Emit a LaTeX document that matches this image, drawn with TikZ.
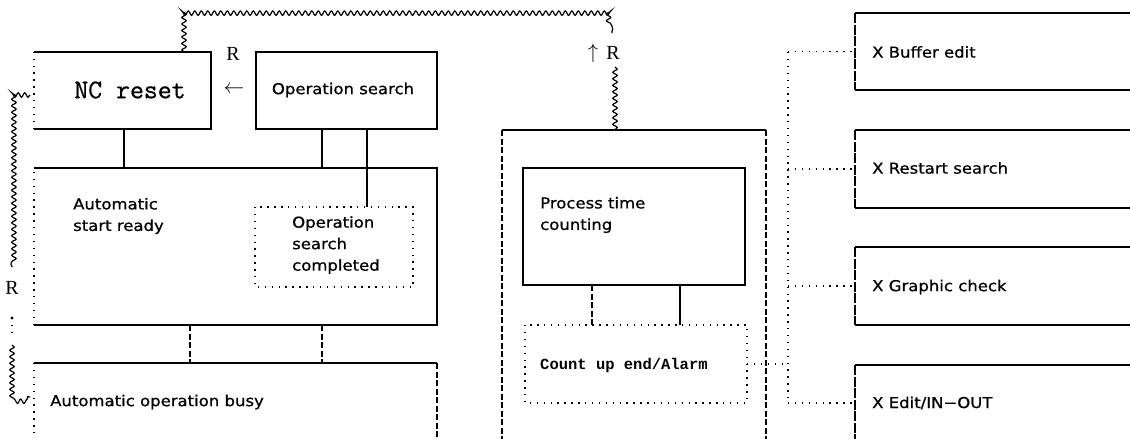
\documentclass[tikz,border=0pt]{standalone}
\usepackage{fontspec}
\usetikzlibrary{arrows.meta,decorations.pathmorphing}
\newfontfamily\panelfont[FakeStretch=1.1,FakeBold=0.8]{DejaVu Sans}
\newfontfamily\alarmfont{Liberation Mono}
\newfontfamily\resetfont[FakeBold=0.8]{Latin Modern Mono}
\newfontfamily\rfont{Liberation Serif}
\tikzset{x=1pt,y=-1pt,frame/.style={anchor=north west,inner sep=0,outer sep=0},solidline/.style={line width=1.5pt},boldline/.style={line width=2.7pt},linkline/.style={line width=1.2pt},dotline/.style={line width=1.4pt,dash pattern=on 1.4pt off 5.5pt},dashline/.style={line width=1.3pt,dash pattern=on 6pt off 2.5pt},brokenline/.style={line width=1.5pt,dash pattern=on 10pt off 1.5pt},wavyline/.style={line width=1.2pt,decorate,decoration={snake,amplitude=2.2pt,segment length=6.5pt}},paneltext/.style={font=\panelfont\fontsize{15}{21.5}\selectfont,inner sep=0,align=left},rmark/.style={font=\rfont\fontsize{20}{20}\selectfont,inner sep=0}}
\begin{document}
\begin{tikzpicture}
\useasboundingbox (0,0) rectangle (1130,439);
\clip (0,0) rectangle (1130,439);
% left column
\node[frame,minimum width=177pt,minimum height=77pt] (reset) at (34,52) {};
\node[frame,minimum width=181pt,minimum height=77pt] (search) at (256,52) {};
\node[frame,minimum width=403pt,minimum height=157pt] (ready) at (34,168) {};
\node[frame,minimum width=158pt,minimum height=80pt] (found) at (255,207) {};
\node[frame,minimum width=403pt,minimum height=90pt] (busy) at (34,363) {};
\draw[solidline] (reset.north west) -- (reset.north east) -- (reset.south east) -- (reset.south west);
\draw[dotline] (reset.south west) -- (reset.north west);
\draw[solidline] (search.north west) rectangle (search.south east);
\draw[solidline] (ready.north west) -- (ready.north east) -- (ready.south east) -- (ready.south west);
\draw[dotline] (ready.south west) -- (ready.north west);
\draw[dotline] (found.north west) rectangle (found.south east);
\draw[solidline] (busy.north west) -- (busy.north east);
\draw[dashline] (busy.north east) -- (busy.south east);
\draw[dotline] (busy.north west) -- (busy.south west);
\node[font=\resetfont\fontsize{27}{27}\selectfont,inner sep=0] (resetlbl) at (130,90) {NC reset};
\node[paneltext] (searchlbl) at (343,90) {Operation search};
\node[paneltext,anchor=west] (readylbl) at (73,216) {Automatic\\start ready};
\node[paneltext,anchor=west] (foundlbl) at (292,245) {Operation\\search\\completed};
\node[paneltext,anchor=west] (busylbl) at (50,402) {Automatic operation busy};
\node[rmark] (resetr) at (233,54) {R};
\node[rmark] (resetarr) at (234,90) {$\leftarrow$};
\draw[linkline] ([xshift=90pt]reset.south west) -- ([xshift=90pt]ready.north west);
\draw[linkline] ([xshift=66pt]search.south west) -- ([xshift=288pt]ready.north west);
\draw[linkline] ([xshift=111pt]search.south west) -- ([xshift=112pt]found.north west);
\draw[dashline] ([xshift=156pt]ready.south west) -- ([xshift=156pt]busy.north west);
\draw[dashline] ([xshift=288pt]ready.south west) -- ([xshift=288pt]busy.north west);
% reset loops
\coordinate (lefthook) at (30,95);
\draw[wavyline] (lefthook) -- ++(-18,0) -- ++(0,172);
\node[rmark] (leftr) at (12,288) {R};
\fill (12,318) circle (1.6pt) coordinate (leftdot);
\draw[dotline] (leftdot) -- ++(0,15);
\coordinate (leftlow) at (12,345);
\draw[wavyline] (leftlow) -- ++(0,52) -- ++(18,0);
\coordinate (topturn) at (612,33);
\draw[wavyline] ([xshift=150pt]reset.north west) -- ++(0,-39) -| (topturn);
\node[rmark] (timerr) at (613,53) {R};
\node[rmark] (timerarr) at (593,53) {$\uparrow$};
\coordinate (timerlow) at (615,67);
% middle column
\node[frame,minimum width=264pt,minimum height=320pt] (timer) at (502,130) {};
\node[frame,minimum width=222pt,minimum height=117pt] (count) at (523,168) {};
\node[frame,minimum width=222pt,minimum height=78pt] (alarm) at (525,325) {};
\draw[solidline] (timer.north west) -- (timer.north east);
\draw[dashline] (timer.north west) -- (timer.south west);
\draw[dashline] (timer.north east) -- (timer.south east);
\draw[boldline] (count.north west) rectangle (count.south east);
\draw[dotline] (alarm.north west) rectangle (alarm.south east);
\draw[wavyline] (timerlow) -- ([xshift=113pt]timer.north west);
\draw[dashline] ([xshift=69pt]count.south west) -- ([xshift=67pt]alarm.north west);
\draw[linkline] ([xshift=157pt]count.south west) -- ([xshift=155pt]alarm.north west);
\node[paneltext,anchor=west] (countlbl) at (540,215) {Process time\\counting};
\node[font=\alarmfont\bfseries\fontsize{15.5}{15.5}\selectfont,inner sep=0,anchor=west] (alarmlbl) at (540,365) {Count up end/Alarm};
% right column
\coordinate (bustop) at (788,52);
\coordinate (busbot) at (788,400);
\node[frame,minimum width=290pt,minimum height=77pt] (buffer) at (855,13) {};
\node[frame,minimum width=290pt,minimum height=78pt] (restart) at (855,130) {};
\node[frame,minimum width=290pt,minimum height=78pt] (graphic) at (855,247) {};
\node[frame,minimum width=290pt,minimum height=76pt] (inout) at (855,365) {};
\draw[solidline] (buffer.north east) -- (buffer.north west);
\draw[brokenline] (buffer.north west) -- (buffer.south west);
\draw[solidline] (buffer.south west) -- (buffer.south east);
\draw[solidline] (restart.north east) -- (restart.north west);
\draw[brokenline] (restart.north west) -- (restart.south west);
\draw[solidline] (restart.south west) -- (restart.south east);
\draw[solidline] (graphic.north east) -- (graphic.north west);
\draw[brokenline] (graphic.north west) -- (graphic.south west);
\draw[solidline] (graphic.south west) -- (graphic.south east);
\draw[solidline] (inout.north east) -- (inout.north west);
\draw[brokenline] (inout.north west) -- (inout.south west);
\draw[dotline] (bustop) -- (busbot);
\draw[dotline] (buffer.west -| bustop) -- (buffer.west);
\draw[dotline] (restart.west -| bustop) -- (restart.west);
\draw[dotline] (graphic.west -| bustop) -- (graphic.west);
\draw[dotline] (inout.west -| bustop) -- (inout.west);
\draw[dotline] (alarm.east) -- (alarm.east -| bustop);
\node[paneltext,anchor=west] (bufferlbl) at (872,52) {X Buffer edit};
\node[paneltext,anchor=west] (restartlbl) at (872,168) {X Restart search};
\node[paneltext,anchor=west] (graphiclbl) at (872,287) {X Graphic check};
\node[paneltext,anchor=west] (inoutlbl) at (872,403) {X Edit/IN−OUT};
\end{tikzpicture}
\end{document}
